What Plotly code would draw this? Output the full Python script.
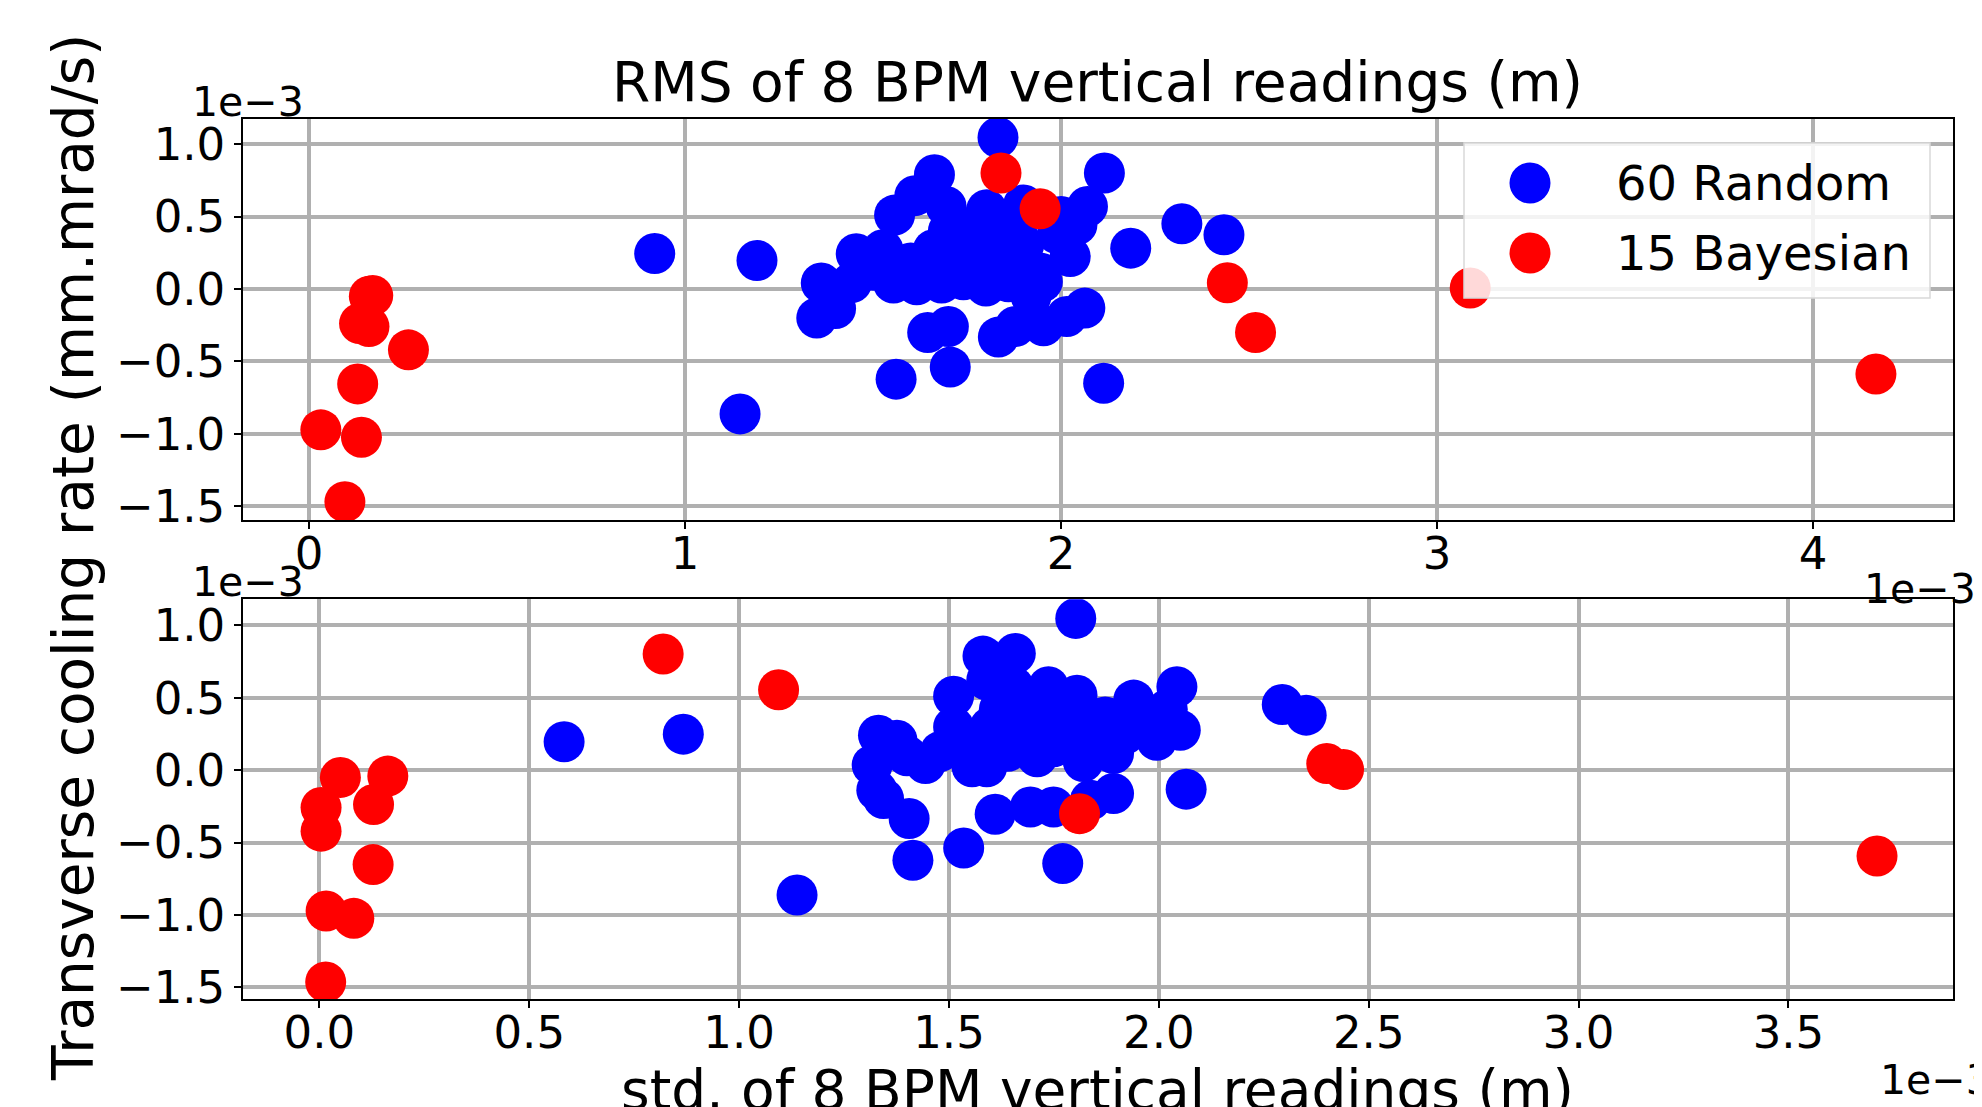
import plotly.graph_objects as go
from plotly.subplots import make_subplots

# Values in units of 1e-3
top_rand_x = [0.919, 1.191, 1.146, 1.350, 1.400, 1.362, 1.455, 1.443, 1.526, 1.557,
              1.611, 1.663, 1.694, 1.554, 1.616, 1.682, 1.740, 1.660, 1.645, 1.700,
              1.705, 1.561, 1.832, 1.833, 1.878, 1.833, 1.802, 2.115, 2.070, 2.042,
              2.024, 2.185, 2.321, 2.433, 2.113, 2.063, 2.015, 1.953, 1.944, 1.882,
              1.760, 1.720, 1.780, 1.850, 1.900, 1.950, 1.600, 1.700, 1.780, 1.870,
              1.990, 1.650, 1.820, 1.740, 1.900, 1.500, 1.800, 1.920, 2.000, 1.860]
top_rand_y = [0.245, 0.197, -0.862, -0.200, -0.135, 0.041, 0.243, 0.045, 0.271, 0.510,
              0.644, 0.789, 0.570, 0.041, 0.029, 0.041, 0.064, 0.271, -0.300, -0.259,
              -0.539, -0.622, 1.046, -0.332, -0.259, 0.213, 0.547, 0.800, 0.570, 0.443,
              0.224, 0.282, 0.450, 0.374, -0.650, -0.132, -0.190, -0.254, 0.110, 0.386,
              0.350, 0.180, 0.450, 0.480, 0.300, 0.050, 0.180, 0.400, 0.130, 0.150,
              0.380, 0.100, 0.300, 0.220, 0.580, 0.130, 0.020, -0.050, 0.500, 0.050]
top_bayes_x = [0.169, 0.160, 0.134, 0.159, 0.264, 0.129, 0.031, 0.139, 0.095,
               1.840, 1.944, 2.442, 2.517, 3.088, 4.167]
top_bayes_y = [-0.045, -0.050, -0.238, -0.259, -0.420, -0.655, -0.972, -1.023, -1.468,
               0.800, 0.554, 0.043, -0.300, 0.007, -0.587]

bot_rand_x = [0.583, 0.867, 1.138, 1.802, 1.581, 1.658, 1.590, 1.654, 1.737, 1.805,
              1.511, 1.872, 1.332, 1.376, 1.317, 1.444, 1.511, 1.590, 1.555, 1.598,
              1.670, 1.710, 1.749, 1.821, 1.876, 1.328, 1.344, 1.405, 1.414, 1.535,
              1.610, 1.694, 1.749, 1.837, 1.892, 1.771, 2.043, 1.940, 2.051, 1.995,
              1.892, 2.065, 2.294, 2.351, 1.480, 1.530, 1.620, 1.700, 1.780, 1.850,
              1.960, 2.020, 1.640, 1.760, 1.920, 1.560, 1.690, 1.820, 1.980, 1.400]
bot_rand_y = [0.196, 0.249, -0.862, 1.048, 0.788, 0.806, 0.622, 0.576, 0.576, 0.518,
              0.511, 0.368, 0.242, 0.207, 0.035, 0.046, 0.299, 0.023, 0.023, 0.299,
              0.276, 0.092, 0.161, 0.230, 0.138, -0.138, -0.196, -0.334, -0.622, -0.537,
              -0.304, -0.254, -0.254, -0.207, -0.161, -0.645, 0.576, 0.484, 0.276, 0.207,
              0.115, -0.131, 0.454, 0.380, 0.130, 0.180, 0.420, 0.380, 0.330, 0.300,
              0.330, 0.420, 0.130, 0.420, 0.250, 0.100, 0.480, 0.060, 0.300, 0.100]
bot_bayes_x = [0.050, 0.163, 0.004, 0.129, 0.004, 0.128, 0.016, 0.082, 0.015,
               0.819, 1.094, 1.811, 2.400, 2.440, 3.711]
bot_bayes_y = [-0.050, -0.041, -0.258, -0.237, -0.421, -0.652, -0.972, -1.023, -1.463,
               0.802, 0.555, -0.300, 0.046, 0.005, -0.593]

labels = ["60 Random", "15 Bayesian"]
colors = ["#0000ff", "#ff0000"]

# The page has an 8px body margin; size the figure so it fills the window.
OFF = 8
W, H = 1982 - OFF, 1107 - OFF
ML, MR, MT, MB = 243 - OFF, 29, 119 - OFF, 108
PW, PH = W - ML - MR, H - MT - MB


def px(x):
    # screen pixel -> paper
    return (x - OFF - ML) / PW


def py(y):
    return (H - MB - (y - OFF)) / PH


FONT = "DejaVu Sans"
MSIZE = 41

fig = make_subplots(rows=2, cols=1)
for (xs, ys, lab, col, r) in [(top_rand_x, top_rand_y, labels[0], colors[0], 1),
                              (top_bayes_x, top_bayes_y, labels[1], colors[1], 1),
                              (bot_rand_x, bot_rand_y, labels[0], colors[0], 2),
                              (bot_bayes_x, bot_bayes_y, labels[1], colors[1], 2)]:
    fig.add_trace(go.Scatter(x=xs, y=ys, mode="markers", name=lab,
                             marker=dict(color=col, size=MSIZE, line=dict(width=0)),
                             showlegend=False), row=r, col=1)

axis_common = dict(showline=True, mirror=True, linecolor="#000000", linewidth=1.5,
                   showgrid=True, gridcolor="#b0b0b0", gridwidth=3.5, zeroline=False,
                   ticks="outside", ticklen=7, tickwidth=1.5, tickcolor="#000000",
                   tickfont=dict(family=FONT, size=45, color="#000000"))

fig.update_layout(
    width=W, height=H,
    margin=dict(l=ML, r=MR, t=MT, b=MB),
    paper_bgcolor="#ffffff", plot_bgcolor="#ffffff",
    showlegend=False,
    xaxis=dict(domain=[0, 1], range=[-0.176, 4.372], tickvals=[0, 1, 2, 3, 4],
               ticktext=["0", "1", "2", "3", "4"], **axis_common),
    yaxis=dict(domain=[py(520), 1], range=[-1.594, 1.173], tickformat=".1f",
               tickvals=[-1.5, -1.0, -0.5, 0.0, 0.5, 1.0], **axis_common),
    xaxis2=dict(domain=[0, 1], range=[-0.182, 3.892], tickformat=".1f",
                tickvals=[0, 0.5, 1.0, 1.5, 2.0, 2.5, 3.0, 3.5], **axis_common),
    yaxis2=dict(domain=[0, py(599.3)], range=[-1.580, 1.180], tickformat=".1f",
                tickvals=[-1.5, -1.0, -0.5, 0.0, 0.5, 1.0], **axis_common),
)
try:
    fig.update_xaxes(ticklabelstandoff=-14)
except Exception:
    pass

ann = []
ann.append(dict(text="RMS of 8 BPM vertical readings (m)", x=px(1097), y=py(82),
                xref="paper", yref="paper", xanchor="center", yanchor="middle",
                showarrow=False, font=dict(family=FONT, size=55, color="#000000")))
ann.append(dict(text="Transverse cooling rate (mm.mrad/s)", x=px(73), y=py(558),
                xref="paper", yref="paper", xanchor="center", yanchor="middle",
                textangle=-90, showarrow=False,
                font=dict(family=FONT, size=56.5, color="#000000")))
ann.append(dict(text="std. of 8 BPM vertical readings (m)", x=px(1097), y=py(1090),
                xref="paper", yref="paper", xanchor="center", yanchor="middle",
                showarrow=False, font=dict(family=FONT, size=55, color="#000000")))
# offset texts
ann.append(dict(text="1e\u22123", x=px(190), y=py(102), xref="paper", yref="paper",
                xanchor="left", yanchor="middle", showarrow=False,
                font=dict(family=FONT, size=41, color="#000000")))
ann.append(dict(text="1e\u22123", x=px(190), y=py(582), xref="paper", yref="paper",
                xanchor="left", yanchor="middle", showarrow=False,
                font=dict(family=FONT, size=41, color="#000000")))
ann.append(dict(text="1e\u22123", x=px(1862), y=py(589), xref="paper", yref="paper",
                xanchor="left", yanchor="middle", showarrow=False,
                font=dict(family=FONT, size=41, color="#000000")))
ann.append(dict(text="1e\u22123", x=px(1878), y=py(1080), xref="paper", yref="paper",
                xanchor="left", yanchor="middle", showarrow=False,
                font=dict(family=FONT, size=41, color="#000000")))

shapes = []
shapes.append(dict(type="rect", xref="paper", yref="paper",
                   x0=px(1464), x1=px(1930), y0=py(298), y1=py(143),
                   fillcolor="rgba(255,255,255,0.85)", line=dict(color="#d9d9d9", width=1.5),
                   layer="above"))
for lab, col, yy in zip(labels, colors, [183, 253]):
    shapes.append(dict(type="circle", xref="paper", yref="paper",
                       xsizemode="pixel", ysizemode="pixel",
                       xanchor=px(1530), yanchor=py(yy),
                       x0=-20.5, x1=20.5, y0=-20.5, y1=20.5,
                       fillcolor=col, line=dict(width=0), layer="above"))
    ann.append(dict(text=lab, x=px(1614), y=py(yy), xref="paper", yref="paper",
                    xanchor="left", yanchor="middle", showarrow=False,
                    font=dict(family=FONT, size=48, color="#000000")))

fig.update_layout(annotations=ann, shapes=shapes)
fig.write_html("out.html")
